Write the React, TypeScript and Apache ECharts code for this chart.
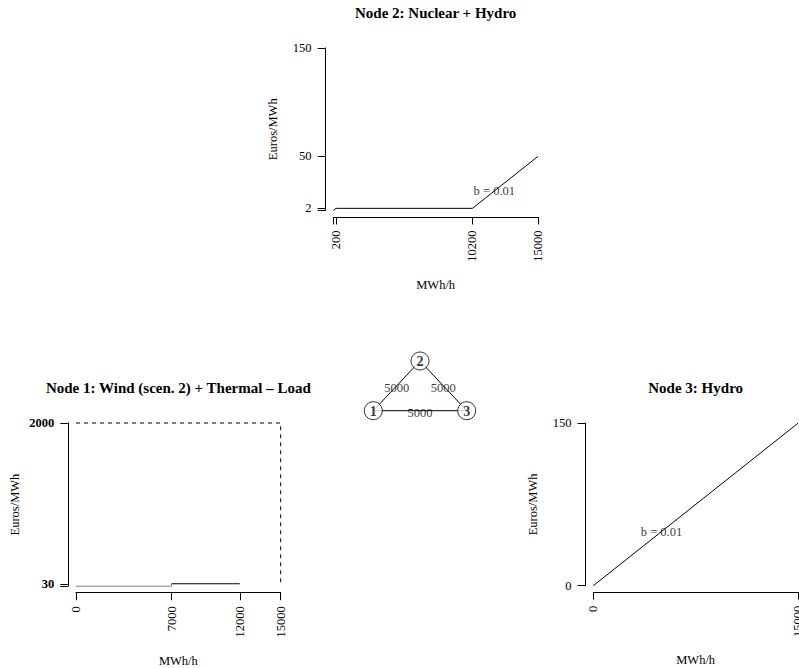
import React, { useEffect, useRef } from "react";
import * as echarts from "echarts";

// Node 2: Nuclear + Hydro
const node2X = [0, 200, 10200, 15000];
const node2Y = [0, 2, 2, 50];
const node2XTicks = [0, 200, 10200, 15000];
const node2XLabels = [200, 10200, 15000];
const node2YTicks = [0, 2, 50, 150];
const node2YLabels = [2, 50, 150];
const node2Note = "b = 0.01";
const node2NoteAt = [11800, 18];

// Node 1: Wind (scen. 2) + Thermal - Load
const windX = [0, 7000, 7000];
const windY = [0, 0, 30];
const thermalX = [7000, 12000];
const thermalY = [30, 30];
const capX = [0, 15000, 15000];
const capY = [2000, 2000, 0];
const node1XTicks = [0, 7000, 12000, 15000];
const node1XLabels = [0, 7000, 12000, 15000];
const node1YTicks = [0, 30, 2000];
const node1YLabels = [30, 2000];

// Node 3: Hydro
const node3X = [0, 15000];
const node3Y = [0, 150];
const node3XTicks = [0, 15000];
const node3YTicks = [0, 150];
const node3Note = "b = 0.01";
const node3NoteAt = [5000, 50];

// Network
const netNodes = ["1", "2", "3"];
const netX = [0, 1, 2];
const netY = [0, 1, 0];
const netEdges = [
  [0, 1],
  [1, 2],
  [0, 2],
];
const netCap = [5000, 5000, 5000];

const FONT = "'Liberation Serif', 'Times New Roman', serif";
const zip = (xs: number[], ys: number[]) => xs.map((x, i) => [x, ys[i]]);

type Panel = {
  title: string;
  grid: { left: number; top: number; width: number; height: number };
  xMax: number;
  yMax: number;
  xTicks: number[];
  xLabels: number[];
  yTicks: number[];
  yLabels: number[];
  yBold?: boolean;
  xNameGap: number;
};

const panels: Panel[] = [
  {
    title: "Node 2: Nuclear + Hydro",
    grid: { left: 333.3, top: 48, width: 204.7, height: 162.5 },
    xMax: 15000,
    yMax: 150,
    xTicks: node2XTicks,
    xLabels: node2XLabels,
    yTicks: node2YTicks,
    yLabels: node2YLabels,
    xNameGap: 61.5,
  },
  {
    title: "Node 1: Wind (scen. 2) + Thermal \u2013 Load",
    grid: { left: 76, top: 423, width: 204.7, height: 163.2 },
    xMax: 15000,
    yMax: 2000,
    xTicks: node1XTicks,
    xLabels: node1XLabels,
    yTicks: node1YTicks,
    yLabels: node1YLabels,
    yBold: true,
    xNameGap: 61.5,
  },
  {
    title: "Node 3: Hydro",
    grid: { left: 593.3, top: 423.2, width: 204.7, height: 162.5 },
    xMax: 15000,
    yMax: 150,
    xTicks: node3XTicks,
    xLabels: node3XTicks,
    yTicks: node3YTicks,
    yLabels: node3YTicks,
    xNameGap: 61.5,
  },
];

const textStyle = {
  color: "#000",
  fontFamily: FONT,
  fontSize: 12.5,
};

export default function App() {
  const ref = useRef<HTMLDivElement>(null);
  useEffect(() => {
    if (!ref.current) return;
    const chart = echarts.init(ref.current, null, { renderer: "svg" });

    const grids: any[] = panels.map((p) => ({
      ...p.grid,
      containLabel: false,
      outerBoundsMode: "none",
    }));
    grids.push({ left: 373.3, top: 361, width: 93.4, height: 49.7, outerBoundsMode: "none" });

    const xAxes: any[] = panels.map((p, i) => ({
      gridIndex: i,
      type: "value",
      position: "bottom",
      min: 0,
      max: p.xMax,
      offset: p.grid.height * 0.04,
      axisLine: { show: true, onZero: false, lineStyle: { color: "#000", width: 1 } },
      axisTick: { show: true, length: 7.5, lineStyle: { color: "#000", width: 1 }, customValues: p.xTicks },
      axisLabel: {
        ...textStyle,
        customValues: p.xLabels,
        rotate: 90,
        margin: 13.5,
        hideOverlap: false,
        formatter: (v: number) => String(v),
      },
      splitLine: { show: false },
      name: "MWh/h",
      nameLocation: "middle",
      nameGap: p.xNameGap,
      nameTextStyle: { ...textStyle },
    }));
    xAxes.push({ gridIndex: 3, type: "value", min: 0, max: 2, show: false });

    const yAxes: any[] = panels.map((p, i) => ({
      gridIndex: i,
      type: "value",
      position: "left",
      min: 0,
      max: p.yMax,
      offset: p.grid.width * 0.04,
      axisLine: { show: true, onZero: false, lineStyle: { color: "#000", width: 1 } },
      axisTick: { show: true, length: 7.5, lineStyle: { color: "#000", width: 1 }, customValues: p.yTicks },
      axisLabel: {
        ...textStyle,
        fontWeight: p.yBold ? "bold" : "normal",
        customValues: p.yLabels,
        margin: 13.5,
        hideOverlap: false,
        formatter: (v: number) => String(v),
      },
      splitLine: { show: false },
      name: "Euros/MWh",
      nameLocation: "middle",
      nameRotate: 90,
      nameGap: 46,
      nameTextStyle: { ...textStyle },
    }));
    yAxes.push({ gridIndex: 3, type: "value", min: 0, max: 1, show: false });

    const line = (idx: number, data: number[][], color = "#000", type: any = "solid") => ({
      type: "line",
      xAxisIndex: idx,
      yAxisIndex: idx,
      data,
      symbol: "none",
      clip: false,
      silent: true,
      lineStyle: { color, width: 1, type },
      z: 3,
    });
    const textAt = (
      idx: number,
      data: number[][],
      texts: string[],
      dy = 0,
      extra: any = {},
      z = 4
    ) => ({
      type: "scatter",
      xAxisIndex: idx,
      yAxisIndex: idx,
      data: data.map((d, i) => ({ value: d, name: texts[i] })),
      symbolSize: 0,
      clip: false,
      silent: true,
      itemStyle: { color: "transparent" },
      label: {
        show: true,
        position: "top",
        distance: 0,
        align: "center",
        verticalAlign: "middle",
        offset: [0, dy],
        formatter: (p: any) => p.name,
        ...textStyle,
        ...extra,
      },
      z,
    });

    const series: any[] = [
      line(0, zip(node2X, node2Y)),
      textAt(0, [node2NoteAt], [node2Note]),
      line(1, zip(capX, capY), "#000", [4, 4]),
      line(1, zip(windX, windY), "#808080"),
      line(1, zip(thermalX, thermalY)),
      line(2, zip(node3X, node3Y)),
      textAt(2, [node3NoteAt], [node3Note]),
    ];

    netEdges.forEach(([a, b]) => {
      series.push(line(3, [[netX[a], netY[a]], [netX[b], netY[b]]]));
    });
    series.push(
      textAt(
        3,
        netEdges.map(([a, b]) => [(netX[a] + netX[b]) / 2, (netY[a] + netY[b]) / 2]),
        netCap.map(String),
        2
      )
    );
    series.push({
      type: "scatter",
      xAxisIndex: 3,
      yAxisIndex: 3,
      data: zip(netX, netY),
      symbol: "circle",
      symbolSize: 18,
      clip: false,
      silent: true,
      itemStyle: { color: "#fff", borderColor: "#000", borderWidth: 1 },
      z: 5,
    });
    series.push(
      textAt(3, zip(netX, netY), netNodes, 0.5, { fontSize: 14, fontWeight: "bold" }, 6)
    );

    const graphic = panels.map((p) => ({
      type: "text",
      x: p.grid.left + p.grid.width / 2,
      y: p.grid.top - 35.5,
      style: {
        text: p.title,
        align: "center",
        verticalAlign: "middle",
        fill: "#000",
        fontFamily: FONT,
        fontSize: 15,
        fontWeight: "bold",
      },
    }));

    chart.setOption({
      animation: false,
      backgroundColor: "#fff",
      grid: grids,
      xAxis: xAxes,
      yAxis: yAxes,
      series,
      graphic,
    });
    return () => chart.dispose();
  }, []);
  return (
    <div
      ref={ref}
      style={{ position: "absolute", left: 0, top: 0, width: 799, height: 668 }}
    />
  );
}
